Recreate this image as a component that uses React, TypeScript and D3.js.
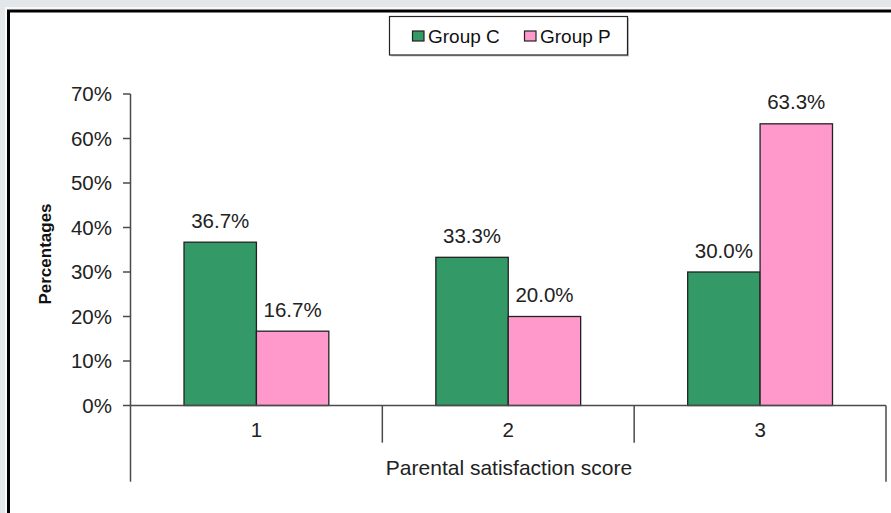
import React from "react";
import * as d3 from "d3";

const categories = ["1", "2", "3"];
const groups = ["Group C", "Group P"];
const groupC = [0.367, 0.333, 0.3];
const groupP = [0.167, 0.2, 0.633];
const yTicks = [0, 0.1, 0.2, 0.3, 0.4, 0.5, 0.6, 0.7];
const colors = ["#339966", "#ff99cc"];

const FONT = "'Liberation Sans', Arial, sans-serif";

export default function App() {
  const W = 891, H = 513;
  const y = d3.scaleLinear().domain([0, 0.7]).range([405.5, 94]);
  const x0 = d3.scaleBand().domain(categories).range([130.5, 886]).paddingInner(0).paddingOuter(0);
  const x1 = d3.scaleBand().domain(groups).range([0, x0.bandwidth()]).paddingInner(0).paddingOuter(0.739);
  const series = [groupC, groupP];
  const fmt = d3.format(".1%");
  const axisColor = "#4a4a4a";
  const dividers = [...categories.map((c) => x0(c)!), x0.range()[1]];

  return (
    <svg width={W} height={H} style={{ position: "absolute", left: 0, top: 0 }} fontFamily={FONT}>
      <rect x={0} y={0} width={W} height={H} fill="#e3e7e9" />
      <rect x={5} y={7} width={W + 20} height={H + 20} fill="#f7f8f8" />
      <rect x={8.5} y={11} width={W + 20} height={H + 20} fill="#ffffff" stroke="#000" strokeWidth={3} />

      {/* legend */}
      <rect x={391} y={18} width={238} height={38.5} fill="#8a8a8a" opacity={0.5} />
      <rect x={389.5} y={16.5} width={238} height={38.5} fill="#fff" stroke="#222" strokeWidth={1.2} />
      {groups.map((g, i) => {
        const lx = i === 0 ? 412.5 : 524.5;
        return (
          <g key={g}>
            <rect x={lx} y={31} width={11.5} height={10} fill={colors[i]} stroke="#222" strokeWidth={1.2} />
            <text x={lx + 15.5} y={42.7} fontSize={19} fill="#111">{g}</text>
          </g>
        );
      })}

      {/* bars */}
      {categories.map((c, ci) => (
        <g key={c} transform={`translate(${x0(c)},0)`}>
          {series.map((s, si) => {
            const v = s[ci];
            const bx = x1(groups[si])!;
            const bw = x1.bandwidth();
            return (
              <g key={si}>
                <rect x={bx} y={y(v)} width={bw} height={y(0) - y(v)} fill={colors[si]} stroke="#222" strokeWidth={1.3} />
                <text x={bx + bw / 2} y={y(v) - 14.4} textAnchor="middle" fontSize={20.5} fill="#222">{fmt(v)}</text>
              </g>
            );
          })}
        </g>
      ))}

      {/* y axis */}
      <line x1={130.5} x2={130.5} y1={y(0.7)} y2={y(0)} stroke={axisColor} strokeWidth={1.5} />
      {yTicks.map((t) => (
        <g key={t}>
          <line x1={123} x2={130.5} y1={y(t)} y2={y(t)} stroke={axisColor} strokeWidth={1.5} />
          <text x={112} y={y(t) + 7} textAnchor="end" fontSize={20.5} fill="#222">{d3.format(".0%")(t)}</text>
        </g>
      ))}

      {/* x axis */}
      <line x1={130.5} x2={886} y1={y(0)} y2={y(0)} stroke={axisColor} strokeWidth={1.5} />
      {dividers.map((dx, i) => (
        <line key={i} x1={dx} x2={dx} y1={y(0)} y2={i === 0 || i === dividers.length - 1 ? 481.7 : 442.7} stroke={axisColor} strokeWidth={1.5} />
      ))}
      {categories.map((c) => (
        <text key={c} x={x0(c)! + x0.bandwidth() / 2} y={436.7} textAnchor="middle" fontSize={20.5} fill="#222">{c}</text>
      ))}
      <text x={509} y={475} textAnchor="middle" fontSize={21} fill="#222">Parental satisfaction score</text>
      <text transform="translate(50.5,254) rotate(-90)" textAnchor="middle" fontSize={17} fontWeight="bold" fill="#111">Percentages</text>
    </svg>
  );
}
